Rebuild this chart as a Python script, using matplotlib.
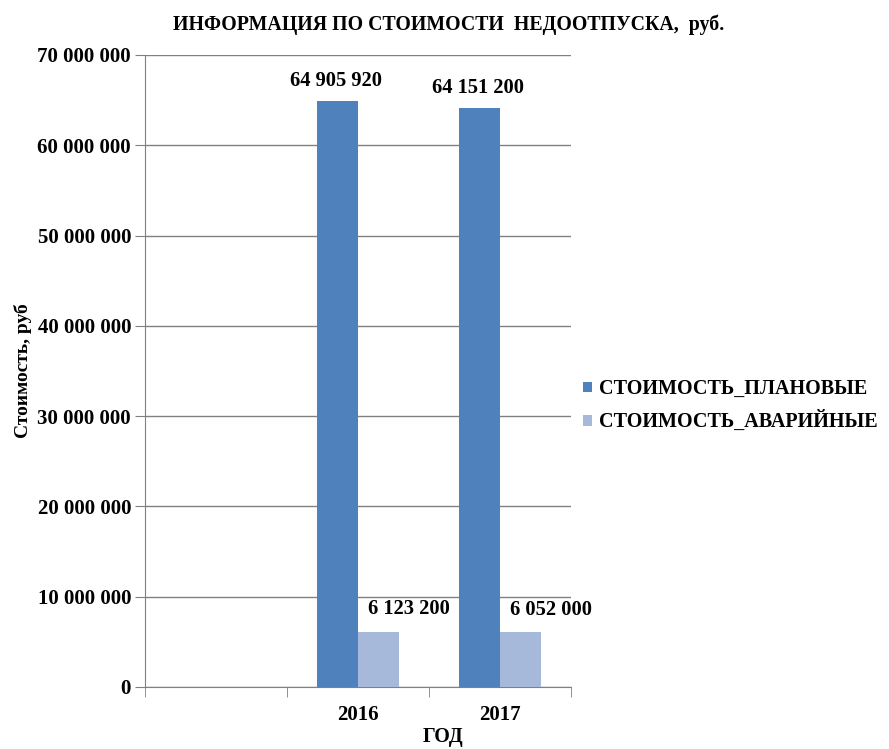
import numpy as np
import matplotlib.pyplot as plt

# данные
years = ['', '2016', '2017']
plan = [0, 64905920, 64151200]
avar = [0, 6123200, 6052000]
plan_labels = ['', '64 905 920', '64 151 200']
avar_labels = ['', '6 123 200', '6 052 000']

plt.rcParams['font.family'] = ['Liberation Serif', 'DejaVu Serif']
plt.rcParams['font.weight'] = 'bold'

fig = plt.figure(figsize=(8.89, 7.49), dpi=100)
ax = fig.add_axes([0.163, 0.0828, 0.479, 0.8438])

x = np.arange(len(years))
w = 0.29
ax.bar(x - w/2, plan, w, color='#4F81BD', label='СТОИМОСТЬ_ПЛАНОВЫЕ', zorder=3)
ax.bar(x + w/2, avar, w, color='#A7B9DB', label='СТОИМОСТЬ_АВАРИЙНЫЕ', zorder=3)

for i in range(1, len(years)):
    ax.annotate(plan_labels[i], (x[i] - w/2, plan[i]), xytext=(-1, 7),
                textcoords='offset points', ha='center', va='bottom',
                fontsize=14.8, fontweight='bold')
    ax.annotate(avar_labels[i], (x[i] + w/2, avar[i]), xytext=(22, 9),
                textcoords='offset points', ha='center', va='bottom',
                fontsize=14.8, fontweight='bold')

ax.set_xlim(-0.5, 2.5)
ax.set_ylim(0, 70000000)
ax.set_yticks(np.arange(0, 70000001, 10000000))
ax.set_yticklabels(['{:,}'.format(v).replace(',', ' ') for v in range(0, 70000001, 10000000)],
                   fontsize=15, fontweight='bold')
ax.set_xticks(x)
ax.set_xticklabels(years, fontsize=15, fontweight='bold')
ax.set_xticks([-0.5, 0.5, 1.5, 2.5], minor=True)
ax.tick_params(axis='x', which='major', length=0, pad=13)
ax.tick_params(axis='x', which='minor', length=7, color='#808080')
ax.tick_params(axis='y', length=7, color='#808080', pad=3)

ax.grid(axis='y', color='#808080', linewidth=1, zorder=0)
for s in ['top', 'right']:
    ax.spines[s].set_visible(False)
ax.spines['left'].set_color('#808080')
ax.spines['bottom'].set_color('#808080')

ax.set_ylabel('Стоимость, руб', fontsize=14, fontweight='bold')
ax.yaxis.set_label_coords(-0.265, 0.5)
ax.set_xlabel('ГОД', fontsize=14.5, fontweight='bold')
ax.xaxis.set_label_coords(0.70, -0.064)

fig.suptitle('ИНФОРМАЦИЯ ПО СТОИМОСТИ  НЕДООТПУСКА,  руб.', x=0.505, y=0.981,
             fontsize=14.3, fontweight='bold')

ax.legend(loc='center left', bbox_to_anchor=(1.0, 0.445), frameon=False,
          fontsize=14.5, handlelength=0.45, handleheight=0.45, handletextpad=0.35,
          labelspacing=0.6, borderaxespad=0.2)

fig.savefig('out.png', dpi=100)
